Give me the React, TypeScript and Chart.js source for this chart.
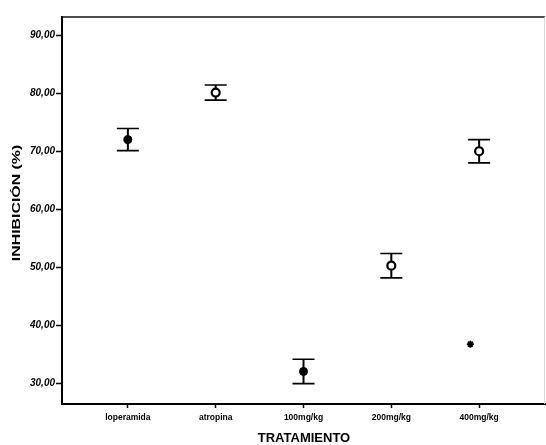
import React, { useEffect, useRef } from "react";
import { Chart, registerables } from "chart.js";

Chart.register(...registerables);

const categories = ["loperamida", "atropina", "100mg/kg", "200mg/kg", "400mg/kg"];
const means = [72.0, 80.1, 32.1, 50.3, 70.0];
const errors = [1.9, 1.3, 2.1, 2.1, 2.0];
const filledMarker = [true, false, true, false, false];
const outlierX = [3.9];
const outlierY = [36.8];
const yTicks = [30, 40, 50, 60, 70, 80, 90];
const yTitle = "INHIBICIÓN (%)";
const xTitle = "TRATAMIENTO";

const errorBarPlugin = {
  id: "errorBars",
  beforeDatasetsDraw(chart: any) {
    const { ctx, scales } = chart;
    const xs = scales.x;
    const ys = scales.y;
    ctx.save();
    ctx.strokeStyle = "#000";
    for (let i = 0; i < means.length; i++) {
      const px = xs.getPixelForValue(i);
      const top = ys.getPixelForValue(means[i] + errors[i]);
      const bot = ys.getPixelForValue(means[i] - errors[i]);
      ctx.lineWidth = 2;
      ctx.beginPath();
      ctx.moveTo(px, top);
      ctx.lineTo(px, bot);
      ctx.stroke();
      ctx.lineWidth = 1.6;
      ctx.beginPath();
      ctx.moveTo(px - 11, top);
      ctx.lineTo(px + 11, top);
      ctx.moveTo(px - 11, bot);
      ctx.lineTo(px + 11, bot);
      ctx.stroke();
    }
    ctx.restore();
  },
};

const framePlugin = {
  id: "frame",
  afterDraw(chart: any) {
    const { ctx, chartArea } = chart;
    const { left, right, top, bottom } = chartArea;
    ctx.save();
    ctx.strokeStyle = "#111";
    ctx.lineWidth = 1.6;
    ctx.beginPath();
    ctx.moveTo(left, top);
    ctx.lineTo(right, top);
    ctx.stroke();
    ctx.strokeStyle = "#d8d8d8";
    ctx.lineWidth = 1;
    ctx.beginPath();
    ctx.moveTo(right - 0.5, top);
    ctx.lineTo(right - 0.5, bottom);
    ctx.stroke();

    // axis titles
    ctx.fillStyle = "#000";
    ctx.textAlign = "center";
    ctx.textBaseline = "middle";
    ctx.font = "bold 13px 'Liberation Sans', Arial, sans-serif";
    ctx.fillText(xTitle, 304, 438);

    ctx.save();
    ctx.translate(17, 203);
    ctx.rotate(-Math.PI / 2);
    ctx.scale(1.38, 1);
    ctx.font = "bold 11.5px 'Liberation Sans', Arial, sans-serif";
    ctx.fillText(yTitle, 0, 0);
    ctx.restore();
    ctx.restore();
  },
};

export default function App() {
  const ref = useRef<HTMLCanvasElement | null>(null);
  useEffect(() => {
    document.body.style.margin = "0";
    const canvas = ref.current;
    if (!canvas) return;
    const chart = new Chart(canvas, {
      type: "scatter",
      data: {
        datasets: [
          {
            data: means.map((m, i) => ({ x: i, y: m })),
            pointRadius: 4,
            pointHoverRadius: 4,
            pointStyle: "circle",
            pointBackgroundColor: filledMarker.map((f) => (f ? "#000" : "#fff")),
            pointBorderColor: "#000",
            pointBorderWidth: filledMarker.map((f) => (f ? 1 : 2.2)),
          },
          {
            data: outlierX.map((x, i) => ({ x, y: outlierY[i] })),
            pointRadius: 3.5,
            pointStyle: "star",
            pointBorderColor: "#000",
            pointBackgroundColor: "#000",
            pointBorderWidth: 1.8,
          },
        ],
      },
      options: {
        animation: false,
        responsive: false,
        events: [],
        layout: { autoPadding: false, padding: { left: 0, top: 17, right: 1, bottom: 0 } },
        plugins: {
          legend: { display: false },
          tooltip: { enabled: false },
          title: { display: false },
        },
        scales: {
          x: {
            type: "linear",
            min: -0.75,
            max: 4.75,
            afterBuildTicks: (s: any) => {
              s.ticks = categories.map((_, i) => ({ value: i }));
            },
            afterFit: (s: any) => {
              s.height = 41;
              s.paddingLeft = 0;
              s.paddingRight = 0;
            },
            ticks: {
              autoSkip: false,
              maxRotation: 0,
              padding: 5,
              color: "#000",
              font: { family: "'Liberation Sans', Arial, sans-serif", size: 8.5, weight: "bold" },
              callback: (v: any) => categories[v] ?? "",
            },
            grid: {
              drawOnChartArea: false,
              drawTicks: true,
              tickLength: 4,
              tickColor: "#000",
              tickWidth: 1.5,
            },
            border: { display: true, color: "#000", width: 2 },
          },
          y: {
            type: "linear",
            min: 26.5,
            max: 93.1,
            afterBuildTicks: (s: any) => {
              s.ticks = yTicks.map((v) => ({ value: v }));
            },
            afterFit: (s: any) => {
              s.width = 62;
              s.paddingTop = 0;
              s.paddingBottom = 0;
            },
            ticks: {
              padding: 1,
              color: "#000",
              font: { family: "'Liberation Sans', Arial, sans-serif", size: 10, weight: "bold", style: "italic" },
              callback: (v: any) => Number(v).toFixed(2).replace(".", ","),
            },
            grid: {
              drawOnChartArea: false,
              drawTicks: true,
              tickLength: 6,
              tickColor: "#000",
              tickWidth: 1.5,
            },
            border: { display: true, color: "#000", width: 2 },
          },
        },
      },
      plugins: [errorBarPlugin, framePlugin],
    } as any);
    return () => chart.destroy();
  }, []);
  return (
    <div style={{ width: 546, height: 445 }}>
      <canvas ref={ref} width={546} height={445} style={{ width: 546, height: 445, display: "block" }} />
    </div>
  );
}
